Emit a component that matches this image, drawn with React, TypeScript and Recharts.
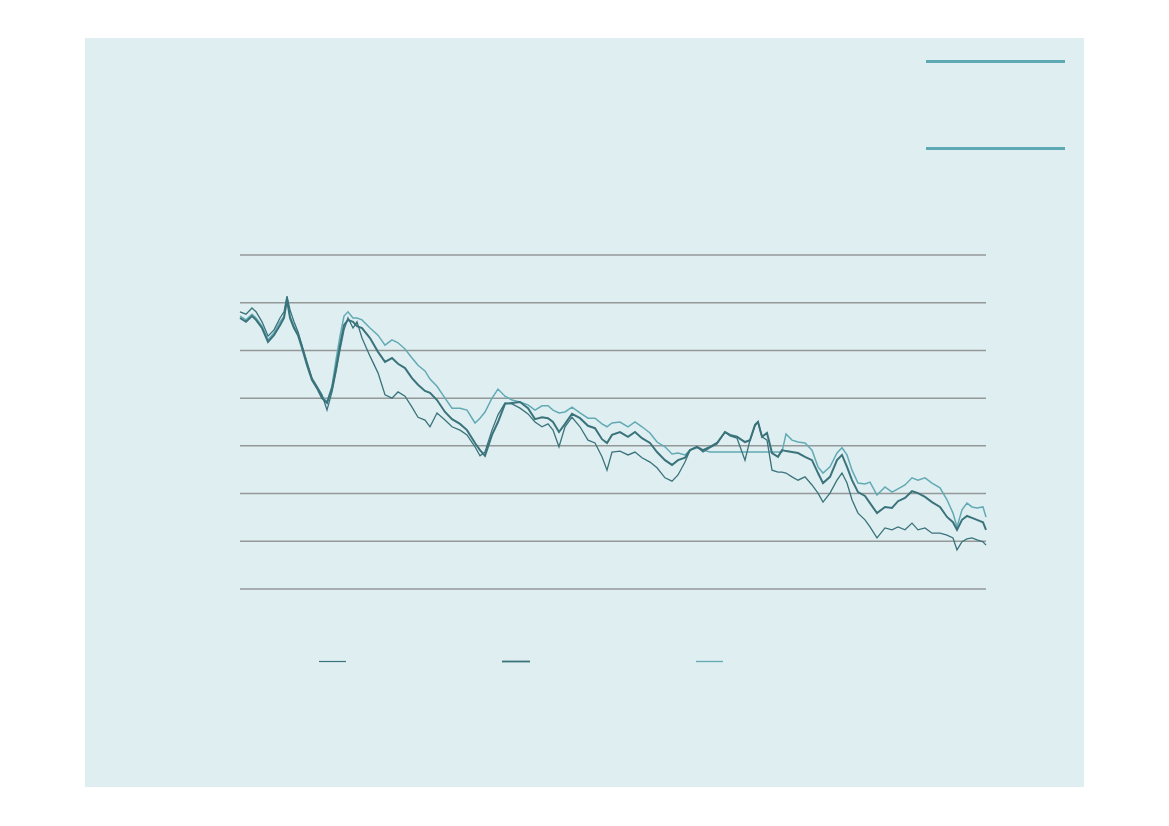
import React from 'react';
import { LineChart, Line, XAxis, YAxis, ReferenceLine } from 'recharts';

// trading-day index along the x axis
const DAYS = [
  0, 6, 12, 16, 22, 28, 34, 40, 44, 47, 50, 54, 58, 62, 67, 72, 77, 82, 87, 92, 96, 100, 104, 108, 113, 117,
  122, 130, 138, 145, 152, 158, 165, 172, 178, 185,
  190, 197, 205, 212, 220, 227, 235, 240, 245, 252,
  258, 265, 272, 280, 288, 295, 302, 308, 313, 319,
  325, 332, 340, 348, 355, 362, 367, 372, 380, 388,
  395, 402, 410, 417, 425, 432, 438, 445, 450, 457,
  463, 470, 477, 485, 490, 497, 505, 510, 515, 518,
  522, 527, 532, 538, 542, 546, 552, 558, 565, 572,
  578, 583, 590, 597, 602, 607, 612, 618, 625, 630,
  637, 645, 652, 658, 665, 672, 678, 685, 692, 700,
  707, 713, 717, 722, 727, 732, 737, 743, 746,
];

const SERIES_A = [
  5.81, 5.76, 5.89, 5.81, 5.60, 5.30, 5.43, 5.68, 5.81, 6.14, 5.85, 5.60, 5.39, 5.11, 4.76, 4.42, 4.25, 4.07, 3.75, 4.13, 4.55, 5.01, 5.43, 5.68, 5.47, 5.60,
  5.26, 4.88, 4.53, 4.07, 4.00, 4.13, 4.04, 3.81, 3.60, 3.54,
  3.40, 3.69, 3.54, 3.40, 3.33, 3.23, 2.98, 2.79, 2.87, 3.33,
  3.65, 3.90, 3.88, 3.79, 3.67, 3.50, 3.40, 3.46, 3.33, 2.98,
  3.40, 3.60, 3.40, 3.12, 3.06, 2.77, 2.49, 2.87, 2.89, 2.81,
  2.87, 2.75, 2.66, 2.54, 2.33, 2.26, 2.39, 2.66, 2.91, 2.98,
  2.87, 2.96, 3.04, 3.29, 3.21, 3.16, 2.70, 3.12, 3.42, 3.50,
  3.19, 3.12, 2.49, 2.45, 2.45, 2.43, 2.35, 2.28, 2.35, 2.18,
  2.01, 1.82, 2.01, 2.28, 2.43, 2.22, 1.87, 1.59, 1.45, 1.30,
  1.07, 1.28, 1.24, 1.30, 1.24, 1.38, 1.24, 1.28, 1.17, 1.17,
  1.13, 1.07, 0.82, 0.99, 1.05, 1.07, 1.03, 0.99, 0.92,
];

const SERIES_B = [
  5.68, 5.60, 5.72, 5.64, 5.47, 5.18, 5.32, 5.53, 5.68, 6.06, 5.68, 5.47, 5.32, 5.05, 4.69, 4.38, 4.21, 4.00, 3.90, 4.21, 4.63, 5.11, 5.53, 5.64, 5.60, 5.51,
  5.47, 5.26, 4.97, 4.76, 4.84, 4.72, 4.63, 4.42, 4.28, 4.15,
  4.11, 3.96, 3.71, 3.56, 3.46, 3.33, 3.06, 2.91, 2.79, 3.23,
  3.50, 3.88, 3.90, 3.92, 3.79, 3.56, 3.60, 3.58, 3.50, 3.29,
  3.46, 3.67, 3.58, 3.42, 3.37, 3.14, 3.06, 3.23, 3.29, 3.19,
  3.29, 3.16, 3.06, 2.87, 2.70, 2.60, 2.70, 2.75, 2.91, 2.98,
  2.91, 2.98, 3.06, 3.29, 3.23, 3.19, 3.08, 3.12, 3.44, 3.50,
  3.19, 3.27, 2.85, 2.77, 2.91, 2.89, 2.87, 2.85, 2.77, 2.70,
  2.43, 2.22, 2.35, 2.70, 2.81, 2.56, 2.28, 2.03, 1.95, 1.80,
  1.59, 1.72, 1.70, 1.84, 1.91, 2.05, 2.01, 1.93, 1.82, 1.72,
  1.51, 1.40, 1.24, 1.45, 1.53, 1.49, 1.45, 1.40, 1.24,
];

const SERIES_C = [
  5.72, 5.64, 5.76, 5.68, 5.51, 5.22, 5.37, 5.60, 5.72, 6.10, 5.72, 5.51, 5.34, 5.09, 4.72, 4.40, 4.23, 4.04, 3.92, 4.25, 4.80, 5.30, 5.72, 5.81, 5.68, 5.68,
  5.64, 5.47, 5.32, 5.11, 5.22, 5.16, 5.03, 4.84, 4.69, 4.57,
  4.40, 4.25, 4.00, 3.79, 3.79, 3.75, 3.48, 3.58, 3.71, 4.00,
  4.19, 4.04, 3.96, 3.92, 3.86, 3.75, 3.84, 3.84, 3.75, 3.69,
  3.71, 3.81, 3.69, 3.58, 3.58, 3.46, 3.40, 3.48, 3.50, 3.40,
  3.50, 3.40, 3.27, 3.08, 2.98, 2.83, 2.85, 2.81, 2.91, 2.96,
  2.91, 2.87, 2.87, 2.87, 2.87, 2.87, 2.87, 2.87, 2.87, 2.87,
  2.87, 2.87, 2.87, 2.87, 2.87, 3.25, 3.12, 3.08, 3.06, 2.91,
  2.56, 2.43, 2.56, 2.85, 2.96, 2.81, 2.49, 2.22, 2.20, 2.24,
  1.97, 2.14, 2.03, 2.10, 2.18, 2.33, 2.28, 2.33, 2.22, 2.12,
  1.87, 1.59, 1.30, 1.66, 1.80, 1.72, 1.70, 1.72, 1.51,
];

const GRID_TICKS = [0, 1, 2, 3, 4, 5, 6, 7];

const data = DAYS.map((d, i) => ({
  day: d,
  a: SERIES_A[i],
  b: SERIES_B[i],
  c: SERIES_C[i],
}));

const DARK = '#3a737b';
const LIGHT = '#62aab4';

export default function App() {
  return (
    <div style={{ position: 'absolute', left: 0, top: 0, width: 1169, height: 826, background: '#fff' }}>
      <div style={{ position: 'absolute', left: 85, top: 38, width: 999, height: 749, background: '#dfeef1' }} />
      <div style={{ position: 'absolute', left: 926, top: 59.5, width: 139, height: 3, background: '#5fa9b4' }} />
      <div style={{ position: 'absolute', left: 926, top: 146.5, width: 139, height: 3, background: '#5fa9b4' }} />

      <div style={{ position: 'absolute', left: 230, top: 245 }}>
        <LineChart width={766} height={354} data={data} margin={{ top: 10, right: 10, bottom: 10, left: 10 }}>
          <XAxis dataKey="day" type="number" domain={[0, 746]} hide />
          <YAxis type="number" domain={[0, 7]} ticks={GRID_TICKS} hide />
          {GRID_TICKS.map(t => (
            <ReferenceLine key={t} y={t} stroke="#939898" strokeWidth={1.5} />
          ))}
          <Line dataKey="c" stroke={LIGHT} strokeWidth={1.5} dot={false} isAnimationActive={false} type="linear" />
          <Line dataKey="b" stroke={DARK} strokeWidth={2} dot={false} isAnimationActive={false} type="linear" />
          <Line dataKey="a" stroke={DARK} strokeWidth={1.3} dot={false} isAnimationActive={false} type="linear" />
        </LineChart>
      </div>

      <svg style={{ position: 'absolute', left: 0, top: 0 }} width={1169} height={826}>
        <line x1={319} x2={346} y1={661.5} y2={661.5} stroke={DARK} strokeWidth={1.2} />
        <line x1={502} x2={530} y1={661.5} y2={661.5} stroke={DARK} strokeWidth={1.8} />
        <line x1={696} x2={723} y1={661.5} y2={661.5} stroke={LIGHT} strokeWidth={1.3} />
      </svg>
    </div>
  );
}
